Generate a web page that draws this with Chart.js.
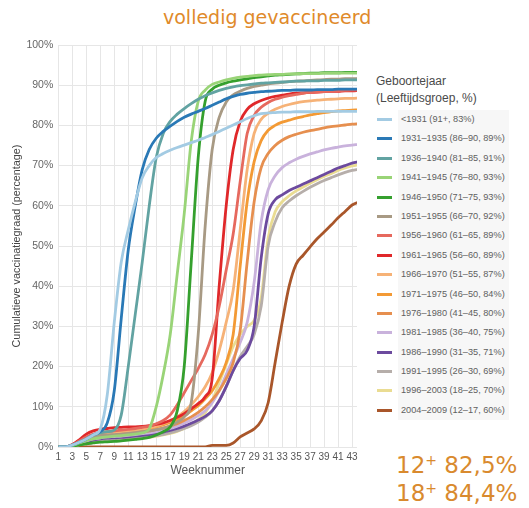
<!DOCTYPE html>
<html>
<head>
<meta charset="utf-8">
<script src="https://cdn.jsdelivr.net/npm/chart.js@4.4.1/dist/chart.umd.min.js"></script>
<style>
  body { margin: 0; background: #fff; width: 529px; height: 508px; position: relative; overflow: hidden; font-family: "Liberation Sans", Arial, sans-serif; }
  #titel { position: absolute; left: 163px; top: 6px; font: 19px "DejaVu Sans", sans-serif; color: #e08a2a; white-space: nowrap; }
  #wrap { position: absolute; left: 0; top: 0; width: 370px; height: 490px; }
  #legenda { position: absolute; left: 376px; top: 73px; width: 150px; color: #555; }
  #legenda .kop { font-size: 12px; line-height: 16.5px; margin-bottom: 4px; color: #4a4a4a; }
  #legenda .item { position: relative; height: 19.4px; font-size: 9.2px; line-height: 19.4px; }
  #legenda .item span.lijn { position: absolute; left: 1px; top: 8px; width: 15px; height: 3px; }
  #legenda .item span.tekst { position: absolute; left: 22px; top: 0; background: #f7f7f7; padding-left: 3px; width: 108px; color: #606060; }
  #percentages { position: absolute; left: 396px; top: 451px; font: 23px "DejaVu Sans", sans-serif; color: #d98a2e; line-height: 28px; white-space: nowrap; }
  #percentages sup { font-size: 14px; vertical-align: 8px; line-height: 0; }
</style>
</head>
<body>
<div id="titel">volledig gevaccineerd</div>
<div id="wrap"><canvas id="grafiek" width="370" height="490"></canvas></div>
<div id="legenda">
  <div class="kop">Geboortejaar<br>(Leeftijdsgroep, %)</div>
  <div id="items"></div>
</div>
<div id="percentages">12<sup>+</sup> 82,5%<br>18<sup>+</sup> 84,4%</div>

<script>
// weeknummers 1..44
const weken = [1,2,3,4,5,6,7,8,9,10,11,12,13,14,15,16,17,18,19,20,21,22,23,24,25,26,27,28,29,30,31,32,33,34,35,36,37,38,39,40,41,42,43,44];
const weekTicks = [1,3,5,7,9,11,13,15,17,19,21,23,25,27,29,31,33,35,37,39,41,43];
const yTicks = [0,10,20,30,40,50,60,70,80,90,100];

const groepen = [
  "<1931 (91+, 83%)",
  "1931–1935 (86–90, 89%)",
  "1936–1940 (81–85, 91%)",
  "1941–1945 (76–80, 93%)",
  "1946–1950 (71–75, 93%)",
  "1951–1955 (66–70, 92%)",
  "1956–1960 (61–65, 89%)",
  "1961–1965 (56–60, 89%)",
  "1966–1970 (51–55, 87%)",
  "1971–1975 (46–50, 84%)",
  "1976–1980 (41–45, 80%)",
  "1981–1985 (36–40, 75%)",
  "1986–1990 (31–35, 71%)",
  "1991–1995 (26–30, 69%)",
  "1996–2003 (18–25, 70%)",
  "2004–2009 (12–17, 60%)"
];

// cumulatieve vaccinatiegraad (%) per week
const g1931 = [0,0,0.5,1.2,2,3,4.5,13,31,46,54,61,67,70,72,73,73.8,74.5,75.1,75.7,76.3,77,77.7,78.5,79.3,80.1,80.9,81.7,82.4,82.9,83.1,83.2,83.3,83.3,83.4,83.4,83.4,83.5,83.5,83.5,83.5,83.5,83.5,83.5];
const g1935 = [0,0,0.5,1.2,2,3,3.8,6,14,32,49,60,69,74,76.8,78.5,79.8,81,82,82.8,83.5,84.2,85,85.8,86.6,87.2,87.7,88,88.2,88.4,88.5,88.6,88.7,88.7,88.8,88.8,88.8,88.9,88.9,88.9,89,89,89,89];
const g1940 = [0,0,0.5,1.2,2,3,3.5,3.8,4.2,8,20,33,46,60,72,78,81,82.8,84.2,85.4,86.5,87.4,88.1,88.7,89.2,89.6,89.9,90.1,90.3,90.5,90.6,90.7,90.8,90.9,91,91,91.1,91.1,91.2,91.2,91.2,91.3,91.3,91.3];
const g1945 = [0,0,0.4,1,1.6,2,2.3,2.5,2.7,2.8,3,3.2,3.5,4.5,10,18,28,43,58,76,86,88.8,90.2,90.8,91.3,91.7,92,92.2,92.4,92.5,92.6,92.7,92.7,92.8,92.8,92.9,92.9,92.9,93,93,93,93,93,93];
const g1950 = [0,0,0.2,0.5,0.8,1,1.2,1.3,1.4,1.5,1.7,1.9,2.1,2.4,3,3.8,5,9,20,46,72,86,89,90,90.6,91,91.3,91.6,91.9,92.1,92.3,92.5,92.6,92.7,92.8,92.9,93,93,93.1,93.1,93.1,93.2,93.2,93.2];
const g1955 = [0,0,0.4,1.2,2,2.5,2.8,3,3.1,3.2,3.4,3.6,3.8,4,4.3,4.7,5.3,6.2,7.5,11,28,55,74,82,85.8,87.6,88.5,89.2,89.7,90,90.3,90.5,90.7,90.9,91,91.1,91.2,91.3,91.4,91.5,91.5,91.6,91.6,91.7];
const g1960 = [0,0,0.5,1.5,2.5,3.2,3.6,3.8,4,4.2,4.4,4.6,4.9,5.2,5.8,6.6,8,10.5,13.5,16.5,19.5,23,28,35,44,53,66,78,82.5,84.5,85.7,86.5,87,87.4,87.7,88,88.2,88.3,88.4,88.5,88.6,88.7,88.8,88.8];
const g1965 = [0,0,0.6,1.8,3.2,4,4.4,4.6,4.8,4.9,5,5,5.1,5.3,5.6,6,6.6,7.4,8.3,9.5,10.8,12.5,17,40,60,74,81,84,85.4,86.2,86.8,87.2,87.5,87.8,88,88.1,88.2,88.3,88.4,88.5,88.5,88.6,88.6,88.7];
const g1970 = [0,0,0.5,1.3,2.2,2.8,3.2,3.4,3.6,3.8,4,4.2,4.5,4.8,5.2,5.8,6.5,7.5,8.8,10.5,12.5,15,18.5,24,31,39,54,69,78,81.5,83,84,84.7,85.2,85.6,85.9,86.1,86.3,86.4,86.5,86.6,86.7,86.7,86.8];
const g1975 = [0,0,0.5,1.3,2.2,2.8,3.1,3.3,3.5,3.6,3.8,4,4.3,4.6,5,5.5,6.1,6.8,7.8,9,10.3,12,14,17,21,28,45,61,71,76.2,78.8,80,80.8,81.3,81.8,82.2,82.6,82.9,83.2,83.4,83.6,83.7,83.8,83.9];
const g1980 = [0,0,0.4,1.1,1.8,2.4,2.7,2.9,3,3.1,3.3,3.5,3.7,4,4.3,4.7,5.2,5.8,6.6,7.5,8.6,10,11.8,14,17,21,29,46,61,69.5,73,75,76.3,77.2,77.8,78.3,78.7,79,79.4,79.7,79.9,80.1,80.3,80.4];
const g1985 = [0,0,0.3,0.9,1.5,2,2.3,2.5,2.6,2.7,2.9,3.1,3.3,3.5,3.8,4.2,4.6,5.2,5.9,6.8,7.8,9,11,14,18,22,26,31,41,56,64,67.5,69.5,70.7,71.6,72.3,72.9,73.4,73.9,74.3,74.6,74.9,75.1,75.3];
const g1990 = [0,0,0.3,0.8,1.3,1.7,2,2.2,2.3,2.4,2.5,2.7,2.9,3.1,3.4,3.7,4.1,4.6,5.2,5.9,6.7,7.6,9,11.5,15,19,22,24,30,47,58,61.5,62.7,63.8,64.6,65.4,66.2,67,67.8,68.6,69.4,70,70.6,71];
const g1995 = [0,0,0.2,0.6,1,1.3,1.5,1.6,1.7,1.8,1.9,2.1,2.3,2.5,2.8,3.1,3.5,4,4.6,5.3,6.2,7.4,9,11.5,15,19,22.5,25,28,35,50,56,59.5,61.2,62.5,63.6,64.6,65.5,66.3,67,67.7,68.3,68.8,69.1];
const g2003 = [0,0,0.2,0.6,1,1.3,1.5,1.6,1.7,1.8,1.9,2,2.2,2.4,2.7,3,3.4,3.9,4.6,5.5,6.8,8.5,11.5,16,20.5,25,28,30,31.5,37,52,58.5,61,62.5,63.7,64.7,65.6,66.5,67.3,68,68.8,69.4,69.9,70.2];
const g2009 = [0,0,0,0,0,0,0,0,0,0,0,0,0,0,0,0,0,0,0,0,0,0,0.4,0.4,0.4,1,2.5,3.5,4.5,6.5,11,21,31,40,45.5,47.7,49.8,51.8,53.5,55.2,57,58.6,60.2,61];

const reeksen = [g1931, g1935, g1940, g1945, g1950, g1955, g1960, g1965, g1970, g1975, g1980, g1985, g1990, g1995, g2003, g2009];
const kleuren = ["#a3cbe3","#2a79b6","#62a3a2","#99d477","#35a02e","#a89a84","#e6695e","#e0282a",
                 "#f6b277","#f39a35","#e68f4f","#c9b2dc","#6c4a9e","#b6aeaa","#eadc92","#a9562a"];

// legenda
const items = document.getElementById("items");
groepen.forEach((g, i) => {
  const div = document.createElement("div");
  div.className = "item";
  const lijn = document.createElement("span");
  lijn.className = "lijn";
  lijn.style.background = kleuren[i];
  const tekst = document.createElement("span");
  tekst.className = "tekst";
  tekst.textContent = g;
  div.appendChild(lijn);
  div.appendChild(tekst);
  items.appendChild(div);
});

const datasets = reeksen.map((r, i) => ({
  label: groepen[i],
  data: r.map((v, j) => ({ x: weken[j], y: v })),
  borderColor: kleuren[i],
  backgroundColor: kleuren[i],
  borderWidth: 2.8,
  pointRadius: 0,
  cubicInterpolationMode: "monotone",
  fill: false
}));

new Chart(document.getElementById("grafiek"), {
  type: "line",
  data: { datasets: datasets },
  options: {
    responsive: false,
    animation: false,
    events: [],
    layout: { padding: { top: 45, right: 13, bottom: 0, left: 0 } },
    plugins: { legend: { display: false }, tooltip: { enabled: false } },
    scales: {
      x: {
        type: "linear",
        min: 1,
        max: 43.7,
        afterBuildTicks: s => { s.ticks = weekTicks.map(v => ({ value: v })); },
        afterFit: s => { s.height = 43; },
        grid: { color: "#e6e6e6", drawTicks: false },
        border: { display: false },
        ticks: { color: "#555", font: { family: "Liberation Sans", size: 10 }, padding: 4, maxRotation: 0, autoSkip: false },
        title: { display: true, text: "Weeknummer", color: "#555", font: { family: "Liberation Sans", size: 12 }, padding: { top: 0, bottom: 12 } }
      },
      y: {
        min: 0,
        max: 100,
        afterBuildTicks: s => { s.ticks = yTicks.map(v => ({ value: v })); },
        afterFit: s => { s.width = 58.3; },
        grid: { color: "#e6e6e6", drawTicks: false },
        border: { display: false },
        ticks: { color: "#666", font: { family: "Liberation Sans", size: 10.5 }, padding: 5, callback: v => v + "%" },
        title: { display: true, text: "Cumulatieve vaccinatiegraad (percentage)", color: "#444", font: { family: "Liberation Sans", size: 10.8 }, padding: { top: 11, bottom: 0 } }
      }
    }
  }
});
</script>
</body>
</html>
